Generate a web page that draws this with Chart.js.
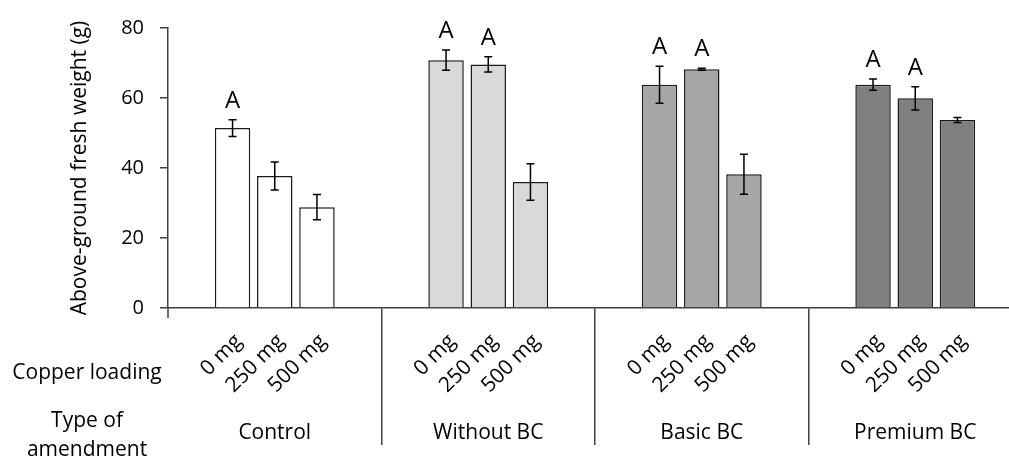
<!DOCTYPE html>
<html>
<head>
<meta charset="utf-8">
<script src="https://cdn.jsdelivr.net/npm/chart.js@4.4.0/dist/chart.umd.min.js"></script>
<style>
  html, body { margin: 0; padding: 0; background: #fff; overflow: hidden; }
  #wrap { width: 1022px; height: 461px; }
</style>
</head>
<body>
<div id="wrap"><canvas id="weightChart" width="1022" height="461"></canvas></div>
<script>
// amendment groups and copper doses
const amendments = ["Control", "Without BC", "Basic BC", "Premium BC"];
const doses = ["0 mg", "250 mg", "500 mg"];

// mean fresh weight (g) per dose, one value per amendment
const weight0 = [51.4, 70.8, 63.8, 63.8];
const weight250 = [37.7, 69.6, 68.2, 59.9];
const weight500 = [28.8, 36.0, 38.2, 53.7];

// error bar half-lengths
const err0 = [2.4, 2.9, 5.3, 1.6];
const err250 = [4.0, 2.2, 0.3, 3.3];
const err500 = [3.6, 5.2, 5.7, 0.7];

// significance letters
const letters0 = ["A", "A", "A", "A"];
const letters250 = ["", "A", "A", "A"];
const letters500 = ["", "", "", ""];

const yTicks = [0, 20, 40, 60, 80];

const groupColors = ["#ffffff", "#d9d9d9", "#a6a6a6", "#808080"];
const FONT = "'Open Sans', sans-serif";

const errors = [err0, err250, err500];
const letters = [letters0, letters250, letters500];

// error bars, letters, dose labels and row headings
const annotations = {
  id: "annotations",
  afterDatasetsDraw(chart) {
    const { ctx, scales } = chart;
    const y = scales.y;
    const area = chart.chartArea;
    ctx.save();
    chart.data.datasets.forEach((ds, i) => {
      const meta = chart.getDatasetMeta(i);
      meta.data.forEach((bar, j) => {
        const v = ds.data[j];
        const e = errors[i][j];
        const top = y.getPixelForValue(v + e);
        const bot = y.getPixelForValue(v - e);
        ctx.strokeStyle = "#000";
        ctx.lineWidth = 1.5;
        ctx.beginPath();
        ctx.moveTo(bar.x, top); ctx.lineTo(bar.x, bot);
        ctx.moveTo(bar.x - 4, top); ctx.lineTo(bar.x + 4, top);
        ctx.moveTo(bar.x - 4, bot); ctx.lineTo(bar.x + 4, bot);
        ctx.stroke();

        if (letters[i][j]) {
          ctx.fillStyle = "#000";
          ctx.font = "24px " + FONT;
          ctx.textAlign = "center";
          ctx.textBaseline = "alphabetic";
          ctx.fillText(letters[i][j], bar.x, top - 12);
        }

        // rotated dose label
        ctx.save();
        ctx.translate(bar.x + 6, area.bottom + 30);
        ctx.rotate(-Math.PI / 4);
        ctx.fillStyle = "#000";
        ctx.font = "21px " + FONT;
        ctx.textAlign = "right";
        ctx.textBaseline = "middle";
        ctx.fillText(doses[i], 0, 0);
        ctx.restore();
      });
    });

    // y axis runs a little below the x axis
    ctx.strokeStyle = "#404040";
    ctx.lineWidth = 1.5;
    ctx.beginPath();
    ctx.moveTo(area.left, area.bottom);
    ctx.lineTo(area.left, area.bottom + 10);
    ctx.stroke();

    ctx.fillStyle = "#000";
    ctx.font = "21px " + FONT;
    ctx.textAlign = "center";
    ctx.textBaseline = "middle";
    ctx.fillText("Copper loading", 87, 373);
    ctx.fillText("Type of", 87, 421);
    ctx.fillText("amendment", 87, 450);
    ctx.restore();
  }
};

new Chart(document.getElementById("weightChart").getContext("2d"), {
  type: "bar",
  data: {
    labels: amendments,
    datasets: [
      { label: doses[0], data: weight0 },
      { label: doses[1], data: weight250 },
      { label: doses[2], data: weight500 },
    ].map((d) => ({
      ...d,
      backgroundColor: groupColors,
      borderColor: "#1a1a1a",
      borderWidth: 1.5,
      categoryPercentage: 0.593,
      barPercentage: 0.84,
    })),
  },
  options: {
    responsive: false,
    animation: false,
    layout: { padding: { top: 19, right: 0, bottom: 0, left: 0 } },
    plugins: {
      legend: { display: false },
      tooltip: { enabled: false },
    },
    scales: {
      x: {
        grid: {
          drawOnChartArea: false,
          drawTicks: true,
          tickLength: 137,
          lineWidth: 1.5,
          color: (c) => (c.index === 0 ? "rgba(0,0,0,0)" : "#404040"),
        },
        border: { color: "#404040", width: 1.5 },
        ticks: {
          padding: -25,
          color: "#000",
          font: { family: FONT, size: 21 },
        },
        afterFit: (s) => { s.height = 153; },
      },
      y: {
        min: 0,
        max: 80,
        afterBuildTicks: (s) => { s.ticks = yTicks.map((v) => ({ value: v })); },
        grid: {
          drawOnChartArea: false,
          tickLength: 8,
          lineWidth: 1.5,
          color: "#404040",
        },
        border: { color: "#404040", width: 1.5 },
        ticks: {
          padding: 16,
          color: "#000",
          font: { family: FONT, size: 20 },
        },
        title: {
          display: true,
          text: "Above-ground fresh weight (g)",
          color: "#000",
          font: { family: FONT, size: 21 },
          padding: { top: 67 },
        },
        afterFit: (s) => { s.width = 168; },
      },
    },
  },
  plugins: [annotations],
});
</script>
</body>
</html>
